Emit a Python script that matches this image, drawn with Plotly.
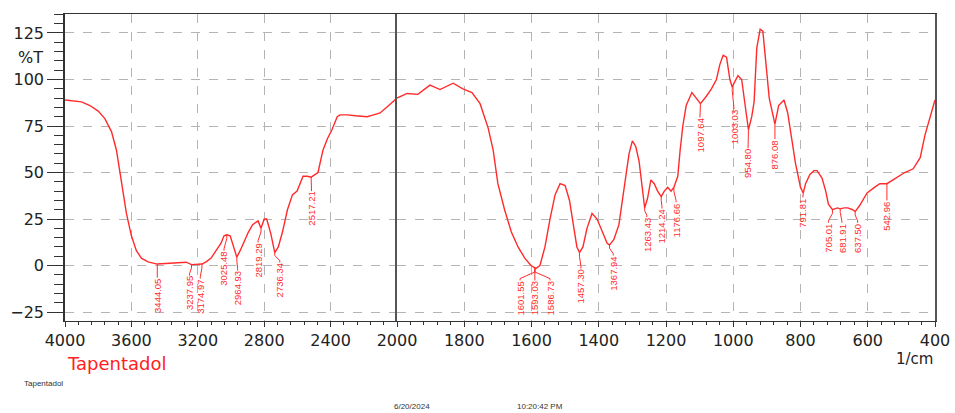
import numpy as np
import plotly.graph_objects as go

# ---------------- data ----------------
# spectrum, high wavenumber section (4000 - 2000 1/cm)
wn_high = [4000, 3950, 3900, 3850, 3800, 3760, 3720, 3690, 3660, 3630, 3600, 3570, 3540,
           3500, 3444.05, 3400, 3350, 3300, 3270, 3237.95, 3210, 3174.97, 3150, 3120, 3090,
           3060, 3042, 3025.48, 3005, 2985, 2964.93, 2945, 2920, 2895, 2870, 2850, 2837,
           2819.29, 2800, 2785, 2760, 2736.34, 2715, 2690, 2660, 2630, 2602, 2566, 2540,
           2517.21, 2476, 2446, 2420, 2392, 2360, 2343, 2300, 2250, 2181, 2140, 2102, 2050, 2000]
t_high = [89, 88.5, 88, 86, 83, 79, 72, 62, 45, 28, 16, 8, 4,
          2, 0.8, 1, 1.2, 1.5, 1.8, 0.5, 0.5, 0.8, 2, 4, 8,
          12, 16, 16.5, 16, 10, 4.5, 8, 13, 18, 22, 23.5, 24,
          20, 25, 25, 17, 7, 10, 18, 30, 38, 40, 48, 48,
          47.5, 50, 62, 68, 73, 80, 81, 81, 80.5, 80, 81, 82, 86, 90]

# spectrum, low wavenumber section (2000 - 400 1/cm)
wn_low = [2000, 1970, 1938, 1902, 1872, 1833, 1804, 1777, 1753, 1729, 1714, 1700, 1680,
          1660, 1640, 1620, 1601.55, 1590, 1586.73, 1575, 1560, 1545, 1530, 1515, 1500,
          1487, 1475, 1465, 1457.3, 1447, 1435, 1420, 1405, 1390, 1375, 1367.94, 1355,
          1340, 1325, 1310, 1300, 1290, 1280, 1270, 1263.43, 1255, 1245, 1235, 1225,
          1214.24, 1205, 1195, 1185, 1176.66, 1165, 1158, 1150, 1140, 1123, 1110, 1097.64,
          1080, 1065, 1050, 1040, 1030, 1020, 1010, 1003.03, 995, 986, 975, 962, 954.8,
          945, 938, 930, 920, 912, 905, 893, 876.08, 865, 849, 838, 826, 815, 800, 791.81,
          785, 772, 760, 751, 736, 725, 717, 705.01, 690, 681.91, 670, 659, 645, 637.5,
          625, 602, 580, 564, 542.96, 525, 513, 490, 465, 444, 430, 415, 400]
t_low = [90, 92.5, 92, 97, 94.6, 98, 95, 93, 87, 74, 62, 44, 30,
         18, 10, 4, 0, -1.5, -1.5, 0, 10, 25, 38, 44, 43,
         35, 22, 10, 7, 10, 20, 28, 25, 18, 12, 11, 14,
         22, 40, 60, 67, 64, 56, 40, 31, 36, 46, 44, 40,
         37, 40, 42, 40, 42, 48, 62, 75, 86, 93, 90, 87,
         91, 95, 100, 108, 113, 112, 100, 96, 99, 102, 100, 81, 73,
         80, 88, 117, 127, 126, 113, 90, 76, 86, 89, 82, 68, 55, 42, 39,
         44, 49, 51, 51, 47, 40, 33, 30, 31, 30.5, 31, 31, 30, 29,
         32, 39, 42, 44, 44, 46, 47, 50, 52, 58, 70, 80, 89]

# peak labels
peak_text = ["3444.05", "3237.95", "3174.97", "3025.48", "2964.93", "2819.29", "2736.34",
             "2517.21", "1601.55", "1593.03", "1586.73", "1457.30", "1367.94", "1263.43",
             "1214.24", "1176.66", "1097.64", "1003.03", "954.80", "876.08", "791.81",
             "705.01", "681.91", "637.50", "542.96"]
peak_wn = [3444.05, 3237.95, 3174.97, 3025.48, 2964.93, 2819.29, 2736.34,
           2517.21, 1590, 1590, 1590, 1457.3, 1367.94, 1263.43,
           1214.24, 1176.66, 1097.64, 1003.03, 954.8, 876.08, 791.81,
           705.01, 681.91, 637.5, 542.96]
# where each label text sits (wavenumber) and the %T of its upper end
label_wn = [3444.05, 3250, 3185, 3042, 2960, 2837, 2706,
            2515, 1634, 1590, 1545, 1453, 1357, 1257,
            1212, 1170, 1099, 998, 956, 876, 793,
            717, 677, 630, 543]
label_top = [-6.5, -5.4, -7, 8, -2.7, 12.4, 1.6,
             40, -8, -8, -8, -1.6, 5.4, 26,
             30.6, 34, 79.6, 84, 63, 68, 36.6,
             23, 23, 23, 35]

x_ticks_high = [4000, 3600, 3200, 2800, 2400]

# ---------------- figure ----------------
RED = "#ff2b2b"
AX = "#333333"
GRID = "#b4b4b4"
TICKFONT = dict(family="DejaVu Sans", size=16, color="#222222")

all_wn = np.array(wn_high + wn_low[1:], dtype=float)
all_t = np.array(t_high + t_low[1:], dtype=float)
order = np.argsort(all_wn)
peak_t = np.interp(peak_wn, all_wn[order], all_t[order])

fig = go.Figure()
fig.add_trace(go.Scatter(x=wn_high, y=t_high, xaxis="x", yaxis="y", mode="lines",
                         line=dict(color=RED, width=1.4), hoverinfo="skip"))
fig.add_trace(go.Scatter(x=wn_low, y=t_low, xaxis="x2", yaxis="y2", mode="lines",
                         line=dict(color=RED, width=1.4), hoverinfo="skip"))

lx = {"x": [], "x2": []}
ly = {"x": [], "x2": []}
annotations = []
for txt, pw, pt, lw, lt in zip(peak_text, peak_wn, peak_t, label_wn, label_top):
    ax = "x" if pw >= 2000 else "x2"
    lx[ax] += [pw, pw, lw, lw, None]
    mid = pt - min(2.0, (pt - lt) * 0.3)
    ly[ax] += [pt, mid, lt + 1.0, lt, None]
    annotations.append(dict(x=lw, y=lt, xref=ax, yref="y", text=txt, textangle=-90,
                            showarrow=False, xanchor="center", yanchor="top",
                            borderpad=0,
                            font=dict(family="Liberation Sans", size=9.5, color=RED)))
fig.add_trace(go.Scatter(x=lx["x"], y=ly["x"], xaxis="x", yaxis="y", mode="lines",
                         line=dict(color=RED, width=1), hoverinfo="skip"))
fig.add_trace(go.Scatter(x=lx["x2"], y=ly["x2"], xaxis="x2", yaxis="y2", mode="lines",
                         line=dict(color=RED, width=1), hoverinfo="skip"))

split = (397 - 65) / 870

annotations += [
    dict(x=-0.023, y=112, xref="paper", yref="y", text="%T", showarrow=False,
         xanchor="right", yanchor="middle", font=TICKFONT),
    dict(x=0.0, y=-0.14, xref="paper", yref="paper", text="Tapentadol", showarrow=False,
         xanchor="left", yanchor="middle",
         font=dict(family="DejaVu Sans", size=18, color="#ff2020")),
    dict(x=1.0, y=-0.125, xref="paper", yref="paper", text="1/cm", showarrow=False,
         xanchor="right", yanchor="middle", font=dict(family="DejaVu Sans", size=15, color="#222")),
    dict(x=-0.0494, y=-0.202, xref="paper", yref="paper", text="Tapentadol", showarrow=False,
         xanchor="left", yanchor="middle", font=dict(family="Liberation Sans", size=8, color="#333")),
    dict(x=0.3759, y=-0.28, xref="paper", yref="paper", text="6/20/2024", showarrow=False,
         xanchor="left", yanchor="middle", font=dict(family="Liberation Sans", size=8, color="#333")),
    dict(x=0.517, y=-0.28, xref="paper", yref="paper", text="10:20:42 PM", showarrow=False,
         xanchor="left", yanchor="middle", font=dict(family="Liberation Sans", size=8, color="#333")),
]

common_x = dict(ticks="outside", ticklen=5, tickcolor=AX, tickwidth=1, showline=True,
                linecolor=AX, linewidth=1.3, mirror=True, showgrid=True, gridcolor=GRID,
                griddash="dash", gridwidth=1, zeroline=False, tickfont=TICKFONT,
                automargin=False)

fig.update_layout(
    width=955, height=413,
    margin=dict(l=65, r=20, t=14, b=92, autoexpand=False),
    paper_bgcolor="white", plot_bgcolor="white",
    showlegend=False,
    xaxis=dict(domain=[0, split], range=[4000, 2000], anchor="y", tickmode="array",
               tickvals=x_ticks_high,
               minor=dict(dtick=80, tick0=0, ticklen=3, ticks="outside", tickcolor=AX,
                          showgrid=False),
               **common_x),
    xaxis2=dict(domain=[split, 1], range=[2000, 400], anchor="y2", tickmode="linear",
                tick0=0, dtick=200,
                minor=dict(dtick=40, tick0=0, ticklen=3, ticks="outside", tickcolor=AX,
                           showgrid=False),
                **common_x),
    yaxis=dict(domain=[0, 1], range=[-29.8, 135.2], anchor="x", tickmode="linear", tick0=0,
               dtick=25, ticks="outside", ticklen=16, tickcolor=AX, showline=True,
               linecolor=AX, linewidth=1.5, mirror=False, showgrid=True, gridcolor=GRID,
               griddash="dash", zeroline=False, tickfont=TICKFONT, automargin=False,
               minor=dict(dtick=5, tick0=0, ticklen=9, ticks="outside", tickcolor=AX,
                          showgrid=False)),
    yaxis2=dict(domain=[0, 1], matches="y", anchor="x2", tickmode="linear", tick0=0, dtick=25,
                showticklabels=False, ticks="", showline=True, linecolor="#555555",
                linewidth=1.5, mirror=True, showgrid=True, gridcolor=GRID, griddash="dash",
                zeroline=False, automargin=False),
    annotations=annotations,
)

fig.write_html("out.html", config={"displayModeBar": False},
               post_script="document.body.style.margin='0';document.body.style.overflow='hidden';")
